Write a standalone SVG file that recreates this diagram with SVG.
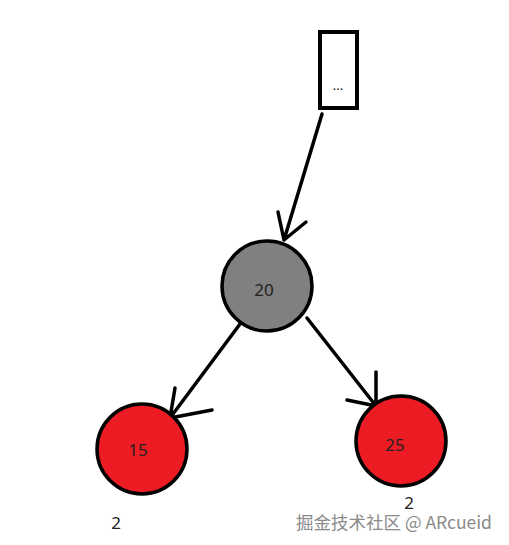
<svg xmlns="http://www.w3.org/2000/svg" width="509" height="545" viewBox="0 0 509 545">
<style>
.edge{stroke:#000;stroke-width:3.5;fill:none;stroke-linecap:round;stroke-linejoin:round}
.node{stroke:#000;stroke-width:3.5}
.lbl{font-family:"Noto Sans","Liberation Sans",sans-serif;font-size:17px;fill:#222;text-anchor:middle}
.wm{font-family:"Noto Sans CJK SC","Liberation Sans",sans-serif;font-size:17.5px;fill:#8a8a8a}
</style>
<rect width="509" height="545" fill="#fff"/>
<g id="connectors">
  <path class="edge" d="M322,114 L284,240 M278,212 L284,240 L306,222"/>
  <path class="edge" d="M243,320 L170,418 M175,388 L170,418 L212,410"/>
  <path class="edge" d="M307,318 L376,406 M376,372 L376,406 L347,400"/>
</g>
<g id="box">
  <rect x="320" y="32" width="37" height="76" fill="#fff" stroke="#000" stroke-width="4"/>
  <text x="338" y="90" class="lbl" style="font-size:13px">...</text>
</g>
<g id="n20">
  <circle cx="267" cy="286" r="45" fill="#808080" class="node"/>
  <text x="264" y="296" class="lbl">20</text>
</g>
<g id="n15">
  <circle cx="142" cy="449" r="45" fill="#ed1c24" class="node"/>
  <text x="138" y="456" class="lbl">15</text>
  <text x="116" y="529" class="lbl">2</text>
</g>
<g id="n25">
  <circle cx="401" cy="441" r="45" fill="#ed1c24" class="node"/>
  <text x="395" y="451" class="lbl">25</text>
  <text x="409" y="509" class="lbl">2</text>
</g>
<text x="296" y="529" class="wm">掘金技术社区 @ ARcueid</text>
</svg>
